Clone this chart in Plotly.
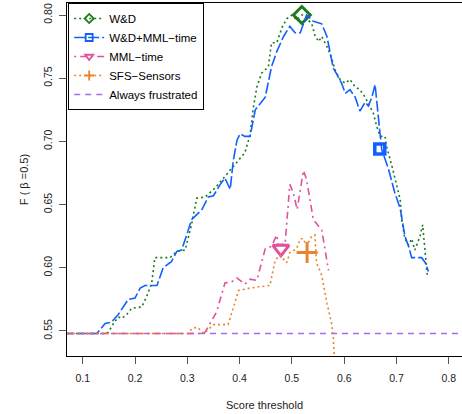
import plotly.graph_objects as go

# ---------------- data ----------------
x_ticks = [0.1, 0.2, 0.3, 0.4, 0.5, 0.6, 0.7, 0.8]
x_tick_labels = ["0.1", "0.2", "0.3", "0.4", "0.5", "0.6", "0.7", "0.8"]
y_ticks = [0.55, 0.60, 0.65, 0.70, 0.75, 0.80]
y_tick_labels = ["0.55", "0.60", "0.65", "0.70", "0.75", "0.80"]

wd_x = [0.06, 0.143, 0.149, 0.159, 0.168, 0.175, 0.184, 0.194, 0.213, 0.222,
        0.232, 0.238, 0.267, 0.280, 0.296, 0.308, 0.318, 0.334, 0.353, 0.369,
        0.382, 0.410, 0.420, 0.426, 0.433, 0.442, 0.455, 0.461, 0.471, 0.481,
        0.490, 0.500, 0.509, 0.519, 0.522, 0.538, 0.544, 0.551, 0.557, 0.567,
        0.576, 0.582, 0.592, 0.602, 0.611, 0.621, 0.630, 0.640, 0.646, 0.656,
        0.662, 0.669, 0.678, 0.681, 0.691, 0.700, 0.707, 0.710, 0.716, 0.723,
        0.729, 0.735, 0.745, 0.750, 0.753, 0.756, 0.759]
wd_y = [0.548, 0.548, 0.549, 0.556, 0.561, 0.560, 0.563, 0.568, 0.569, 0.577,
        0.588, 0.608, 0.608, 0.613, 0.614, 0.634, 0.655, 0.656, 0.663, 0.671,
        0.677, 0.691, 0.705, 0.726, 0.743, 0.754, 0.759, 0.778, 0.778, 0.790,
        0.797, 0.800, 0.796, 0.800, 0.800, 0.793, 0.784, 0.779, 0.783, 0.775,
        0.766, 0.757, 0.749, 0.746, 0.749, 0.743, 0.741, 0.735, 0.730, 0.722,
        0.712, 0.704, 0.704, 0.696, 0.681, 0.667, 0.654, 0.638, 0.623, 0.618,
        0.623, 0.614, 0.625, 0.634, 0.622, 0.606, 0.593]

wdmml_x = [0.06, 0.127, 0.143, 0.155, 0.168, 0.187, 0.200, 0.210, 0.219, 0.242,
           0.254, 0.270, 0.280, 0.289, 0.299, 0.308, 0.328, 0.340, 0.350, 0.363,
           0.372, 0.382, 0.388, 0.395, 0.401, 0.410, 0.420, 0.430, 0.449, 0.461,
           0.471, 0.484, 0.496, 0.506, 0.516, 0.528, 0.541, 0.557, 0.567, 0.579,
           0.586, 0.595, 0.602, 0.611, 0.621, 0.630, 0.640, 0.646, 0.653, 0.659,
           0.669, 0.672, 0.684, 0.697, 0.707, 0.716, 0.723, 0.729, 0.748, 0.755,
           0.761]
wdmml_y = [0.548, 0.548, 0.556, 0.557, 0.563, 0.575, 0.576, 0.584, 0.586, 0.586,
           0.600, 0.605, 0.613, 0.614, 0.626, 0.638, 0.646, 0.656, 0.657, 0.666,
           0.671, 0.662, 0.685, 0.701, 0.706, 0.704, 0.704, 0.725, 0.735, 0.759,
           0.771, 0.783, 0.791, 0.786, 0.786, 0.800, 0.795, 0.793, 0.783, 0.758,
           0.753, 0.746, 0.738, 0.741, 0.735, 0.724, 0.731, 0.728, 0.735, 0.745,
           0.704, 0.693, 0.679, 0.659, 0.647, 0.625, 0.617, 0.608, 0.608, 0.604,
           0.597]

mml_x = [0.06, 0.330, 0.334, 0.356, 0.372, 0.385, 0.395, 0.410, 0.420, 0.433,
         0.449, 0.461, 0.471, 0.474, 0.487, 0.496, 0.503, 0.510, 0.522, 0.528,
         0.541, 0.557, 0.570]
mml_y = [0.548, 0.548, 0.549, 0.565, 0.588, 0.589, 0.592, 0.587, 0.591, 0.590,
         0.615, 0.617, 0.626, 0.618, 0.619, 0.666, 0.659, 0.646, 0.677, 0.670,
         0.638, 0.630, 0.598]

sfs_x = [0.06, 0.302, 0.309, 0.319, 0.332, 0.350, 0.378, 0.398, 0.420, 0.458,
         0.468, 0.477, 0.490, 0.496, 0.509, 0.516, 0.522, 0.528, 0.538, 0.544,
         0.547, 0.557, 0.567, 0.576, 0.579, 0.582]
sfs_y = [0.548, 0.548, 0.552, 0.553, 0.548, 0.555, 0.555, 0.582, 0.584, 0.586,
         0.606, 0.610, 0.604, 0.612, 0.615, 0.623, 0.623, 0.617, 0.625, 0.626,
         0.604, 0.594, 0.572, 0.556, 0.546, 0.519]

# chosen operating points (highlighted markers)
wd_pt = (0.519, 0.800)
wdmml_pt = (0.668, 0.694)
mml_pt = (0.479, 0.615)
sfs_pt = (0.529, 0.612)

always_frustrated = 0.548
x_range = [0.070, 0.8252]
y_range = [0.5302, 0.8095]

# ---------------- styles ----------------
GREEN = "#1d7a1d"
BLUE = "#1060ff"
PINK = "#e0529e"
ORANGE = "#e8832f"
PURPLE = "#a66cf0"

series = [
    dict(name="W&D", x=wd_x, y=wd_y, pt=wd_pt, color=GREEN, dash="2px,3px",
         symbol="diamond-open", size=13, lw=3),
    dict(name="W&D+MML\u2212time", x=wdmml_x, y=wdmml_y, pt=wdmml_pt, color=BLUE,
         dash="11px,3px", symbol="square-open", size=10, lw=3.5),
    dict(name="MML\u2212time", x=mml_x, y=mml_y, pt=mml_pt, color=PINK,
         dash="2px,4px,7px,4px", symbol="triangle-down-open", size=14, lw=3),
    dict(name="SFS\u2212Sensors", x=sfs_x, y=sfs_y, pt=sfs_pt, color=ORANGE,
         dash="2px,3px", symbol="cross-thin-open", size=15, lw=3),
]

fig = go.Figure()

# baseline
fig.add_trace(go.Scatter(x=x_range, y=[always_frustrated, always_frustrated],
                         mode="lines", showlegend=False, hoverinfo="skip",
                         line=dict(color=PURPLE, width=1.5, dash="6px,5px")))

for s in series:
    fig.add_trace(go.Scatter(x=s["x"], y=s["y"], mode="lines", showlegend=False,
                             line=dict(color=s["color"], width=1.6, dash=s["dash"])))
    fig.add_trace(go.Scatter(x=[s["pt"][0]], y=[s["pt"][1]], mode="markers",
                             showlegend=False,
                             marker=dict(symbol=s["symbol"], size=s["size"],
                                         color=s["color"],
                                         line=dict(color=s["color"], width=s["lw"]))))

# legend entries
for s in series:
    fig.add_trace(go.Scatter(x=[None], y=[None], mode="lines+markers", name=s["name"],
                             line=dict(color=s["color"], width=1.6, dash=s["dash"]),
                             marker=dict(symbol=s["symbol"], size=7, color=s["color"],
                                         line=dict(color=s["color"], width=1.8))))
fig.add_trace(go.Scatter(x=[None], y=[None], mode="lines", name="Always frustrated",
                         line=dict(color=PURPLE, width=1.5, dash="6px,5px")))

fig.update_layout(
    width=462, height=414,
    margin=dict(l=67, r=0, t=3, b=58),
    plot_bgcolor="white", paper_bgcolor="white",
    font=dict(family="Liberation Sans, Arial, sans-serif", size=11, color="#222"),
    showlegend=True,
    legend=dict(x=0.003, y=1, xanchor="left", yanchor="top", bgcolor="white",
                bordercolor="black", borderwidth=1, tracegroupgap=0,
                font=dict(size=11.5, color="black")),
)
fig.update_xaxes(range=x_range, tickvals=x_ticks, ticktext=x_tick_labels,
                 automargin=False, ticklabelstandoff=5,
                 ticks="outside", ticklen=7, tickcolor="#555", tickwidth=1,
                 showline=True, linecolor="black", linewidth=1, mirror=True,
                 showgrid=False, zeroline=False, tickfont=dict(size=10.5),
                 title=dict(text="Score threshold", font=dict(size=11), standoff=18))
fig.update_yaxes(range=y_range, tickvals=y_ticks, ticktext=y_tick_labels,
                 automargin=False, ticklabelstandoff=3,
                 ticks="outside", ticklen=7, tickcolor="#555", tickwidth=1,
                 tickangle=-90, showline=True, linecolor="black", linewidth=1,
                 showgrid=False, zeroline=False, tickfont=dict(size=10.5),
                 title=dict(text="F ( \u03b2 =0.5)", font=dict(size=11), standoff=10))

fig.write_html("out.html", config={"displayModeBar": False},
               post_script="document.body.style.margin='0';")
